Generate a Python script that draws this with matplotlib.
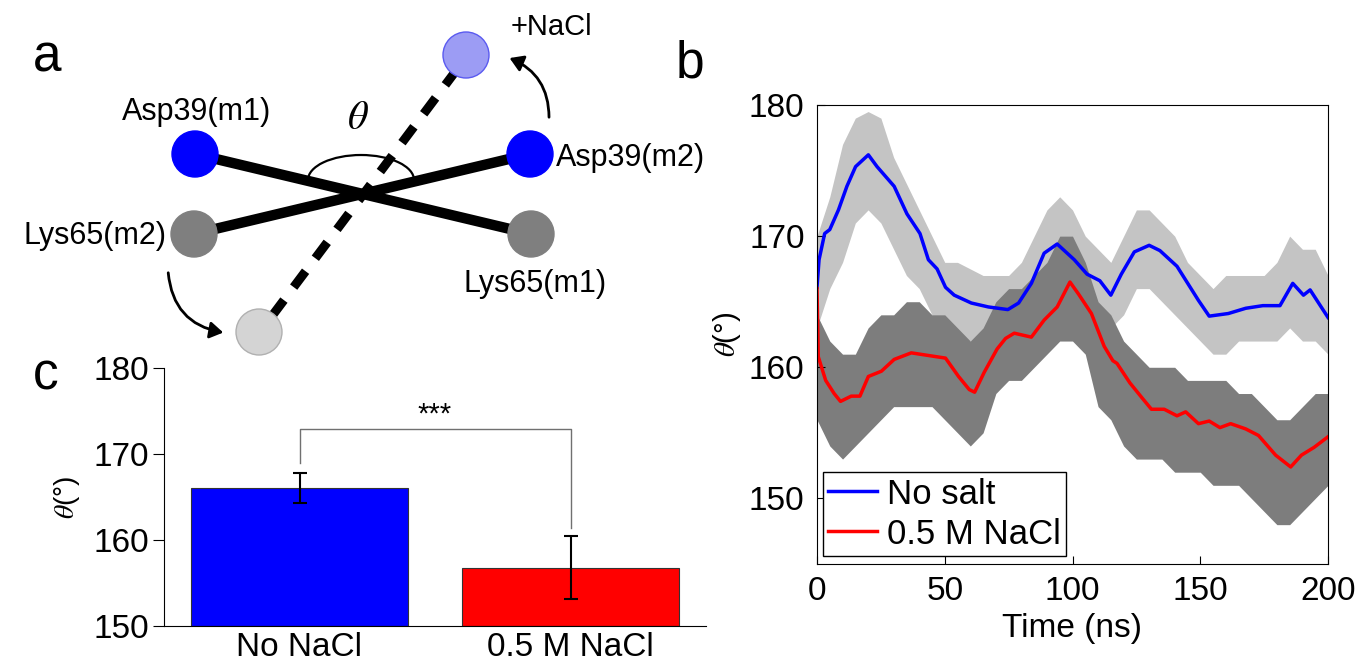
import numpy as np
import matplotlib
matplotlib.use('Agg')
import matplotlib.pyplot as plt
from matplotlib.patches import Circle, Arc, FancyArrowPatch

plt.rcParams['font.family'] = ['Liberation Sans', 'DejaVu Sans']
plt.rcParams['mathtext.fontset'] = 'stix'

# ---- panel b: smoothed theta traces (ns, degrees)
t_nosalt = [0, 0.8, 3, 5, 8.4, 11.7, 15.1, 20.1, 23.5, 30.2, 35.2, 40.3, 43.6, 47, 50.3,
            53.7, 60.4, 67.1, 74.7, 78.9, 83.9, 88.9, 94, 100.7, 105.7, 110.7, 115,
            119.1, 124.2, 130, 134.2, 140.9, 149.3, 153.5, 161, 167.8, 174.5, 181.2,
            186.2, 190.4, 193, 200]
th_nosalt = [166.1, 168.2, 170.2, 170.5, 172.0, 173.8, 175.3, 176.2, 175.3, 173.8, 171.7,
             170.2, 168.2, 167.5, 166.1, 165.5, 164.9, 164.6, 164.4, 164.9, 166.4, 168.7,
             169.4, 168.2, 167.1, 166.6, 165.5, 167.1, 168.8, 169.3, 168.9, 167.7, 165.1,
             163.9, 164.1, 164.5, 164.7, 164.7, 166.4, 165.5, 165.9, 163.8]

t_nacl = [0, 0.5, 3.4, 6.7, 9.2, 13.4, 16.8, 20.1, 25.2, 30.2, 36.9, 43.6, 50.3, 55.4,
          59.6, 61.7, 65.4, 70.5, 73.8, 77.2, 83.9, 88.9, 94, 99, 102.3, 107.4, 112.4,
          115.8, 117.4, 122.5, 127.5, 130.9, 135.9, 140.9, 144.3, 149.3, 153.5, 157.7,
          161.9, 167.8, 172.8, 179.5, 185.4, 189.6, 194.6, 200]
th_nacl = [166.0, 160.8, 159.0, 158.0, 157.4, 157.8, 157.8, 159.3, 159.7, 160.6, 161.1,
           160.9, 160.7, 159.3, 158.3, 158.1, 159.6, 161.4, 162.2, 162.6, 162.3, 163.6,
           164.6, 166.5, 165.6, 164.1, 161.6, 160.5, 160.3, 158.8, 157.6, 156.8, 156.8,
           156.3, 156.6, 155.7, 155.9, 155.4, 155.7, 155.3, 154.8, 153.3, 152.4, 153.3,
           153.9, 154.7]

# raw-trace spread (core envelope), every 5 ns
t_env = list(range(0, 201, 5))
nosalt_lo = [163, 166, 168, 171, 172, 171, 169, 167, 166, 164, 163, 162, 162, 162, 162,
             162, 163, 164, 166, 166, 165, 164, 163, 163, 164, 166, 166, 165, 164, 163,
             162, 161, 161, 162, 162, 162, 162, 163, 162, 162, 161]
nosalt_hi = [170, 173, 177, 179, 179.5, 179, 176, 174, 172, 170, 168, 168, 167.5, 167, 167,
             167, 168, 170, 172, 173, 172, 170, 169, 168, 170, 172, 172, 171, 170, 168,
             167, 166, 167, 167, 167, 167, 168, 170, 169, 169, 167]
nacl_lo = [156, 154, 153, 154, 155, 156, 157, 157, 157, 157, 156, 155, 154, 155, 158, 159,
           159, 160, 161, 162, 162, 161, 157, 156, 154, 153, 153, 153, 152, 152, 152, 151,
           151, 151, 150, 149, 148, 148, 149, 150, 151]
nacl_hi = [164, 162, 161, 161, 163, 164, 164, 165, 165, 164, 164, 163, 162, 163, 165, 166,
           166, 167, 168, 170, 170, 168, 165, 164, 162, 161, 160, 160, 160, 159, 159, 159,
           159, 158, 158, 157, 156, 156, 157, 158, 158]

# ---- panel c: mean angle with error
conditions = ['No NaCl', '0.5 M NaCl']
mean_theta = [166.0, 156.8]
err_theta = [1.75, 3.7]

fig = plt.figure(figsize=(13.59, 6.64), dpi=100)

# ---- panel a: schematic, drawn in pixel units
ax0 = fig.add_axes([0, 0, 1, 1])
ax0.set_xlim(0, 1359)
ax0.set_ylim(664, 0)
ax0.axis('off')

asp_m1, asp_m2 = (195, 154), (530, 154)
lys_m2, lys_m1 = (194, 234), (531, 234)
salt_asp, salt_lys = (466, 55), (259, 332)

ax0.plot([asp_m1[0], lys_m1[0]], [asp_m1[1], lys_m1[1]], color='black', lw=7.5, zorder=1)
ax0.plot([lys_m2[0], asp_m2[0]], [lys_m2[1], asp_m2[1]], color='black', lw=7.5, zorder=1)
ax0.plot([272, 455], [316, 72], color='black', lw=6.5, ls=(0, (2.2, 1.8)), zorder=1)
for c, col in [(asp_m1, '#0000ff'), (asp_m2, '#0000ff'), (lys_m2, '#7f7f7f'), (lys_m1, '#7f7f7f')]:
    ax0.add_patch(Circle(c, 23, color=col, zorder=2))
ax0.add_patch(Circle(salt_asp, 23, facecolor='#9c9cf4', edgecolor='#5a5af0', lw=1, zorder=2))
ax0.add_patch(Circle(salt_lys, 23, facecolor='#d4d4d4', edgecolor='#b0b0b0', lw=1, zorder=2))
# y axis is flipped, so 180..360 is the upper half on screen
ax0.add_patch(Arc((361, 180), 106, 50, theta1=180, theta2=360, color='black', lw=1.6))

ax0.add_patch(FancyArrowPatch((549, 120), (507, 57), connectionstyle='arc3,rad=0.35',
                              arrowstyle='-|>,head_length=8,head_width=5', color='black', lw=2))
ax0.add_patch(FancyArrowPatch((168, 270), (226, 333), connectionstyle='arc3,rad=0.4',
                              arrowstyle='-|>,head_length=8,head_width=5', color='black', lw=2))

ax0.text(197, 112, 'Asp39(m1)', ha='center', va='center', fontsize=22)
ax0.text(556, 158, 'Asp39(m2)', ha='left', va='center', fontsize=22)
ax0.text(166, 236, 'Lys65(m2)', ha='right', va='center', fontsize=22)
ax0.text(535, 284, 'Lys65(m1)', ha='center', va='center', fontsize=22)
ax0.text(511, 27, '+NaCl', ha='left', va='center', fontsize=21)
ax0.text(358, 118, r'$\theta$', ha='center', va='center', fontsize=29)
ax0.text(33, 72, 'a', ha='left', va='baseline', fontsize=37)
ax0.text(676, 78, 'b', ha='left', va='baseline', fontsize=37)
ax0.text(33, 390, 'c', ha='left', va='baseline', fontsize=37)

# ---- panel b
axb = fig.add_axes([817/1359, 1-564/664, 511/1359, 459/664])
axb.fill_between(t_env, nosalt_lo, nosalt_hi, color='#c4c4c4', lw=0)
axb.fill_between(t_env, nacl_lo, nacl_hi, color='#7d7d7d', lw=0)
axb.plot(t_nosalt, th_nosalt, color='#0000ff', lw=2.5, label='No salt')
axb.plot(t_nacl, th_nacl, color='#ff0000', lw=2.5, label='0.5 M NaCl')
axb.set_xlim(0, 200)
axb.set_ylim(145, 180)
axb.set_xticks([0, 50, 100, 150, 200])
axb.set_yticks([150, 160, 170, 180])
axb.tick_params(direction='in', labelsize=24, length=6, pad=9)
axb.set_xlabel('Time (ns)', fontsize=24, labelpad=4)
axb.set_ylabel(r'$\theta$(°)', fontsize=21, labelpad=4)
leg = axb.legend(loc='lower left', bbox_to_anchor=(0.012, 0.018), fontsize=25,
                 fancybox=False, edgecolor='black', framealpha=1, borderaxespad=0,
                 handlelength=1.4, handletextpad=0.3, labelspacing=0.2, borderpad=0.15)
leg.get_frame().set_linewidth(1)

# ---- panel c
axc = fig.add_axes([164/1359, 1-626/664, 542/1359, 258/664])
xpos = np.arange(len(conditions))
axc.bar(xpos, [m - 150 for m in mean_theta], bottom=150, width=0.8,
        color=['#0000ff', '#ff0000'], edgecolor='#333333', lw=0.8)
axc.errorbar(xpos, mean_theta, yerr=err_theta, fmt='none', ecolor='black',
             elinewidth=1.5, capsize=5, capthick=1.5)
axc.plot([0, 0, 1, 1], [169.0, 172.9, 172.9, 161.4], color='#707070', lw=1)
axc.text(0.5, 174.6, '***', ha='center', va='center', fontsize=21)
axc.set_xlim(-0.5, 1.5)
axc.set_ylim(150, 180)
axc.set_yticks([150, 160, 170, 180])
axc.set_xticks(xpos)
axc.set_xticklabels(conditions)
axc.spines['top'].set_visible(False)
axc.spines['right'].set_visible(False)
axc.tick_params(axis='y', direction='out', labelsize=24, length=8, pad=3)
axc.tick_params(axis='x', length=0, labelsize=24, pad=4)
axc.set_ylabel(r'$\theta$(°)', fontsize=20, labelpad=8)

fig.savefig('out.png', dpi=100)
